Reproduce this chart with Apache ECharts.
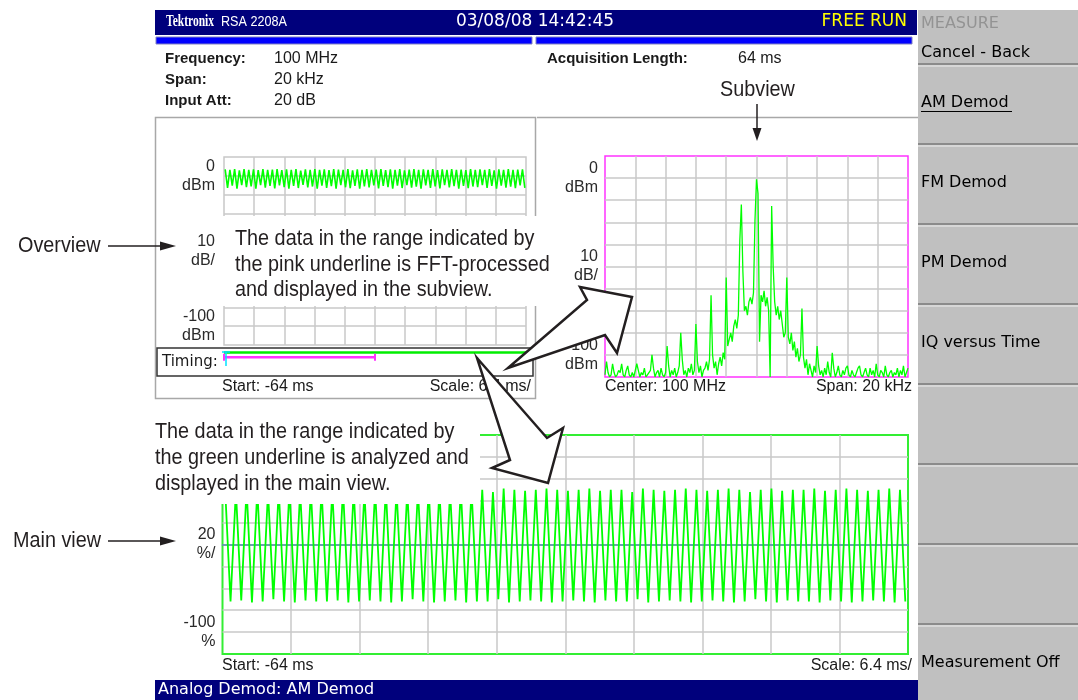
<!DOCTYPE html>
<html><head><meta charset="utf-8">
<script src="https://cdn.jsdelivr.net/npm/echarts@6/dist/echarts.min.js"></script>
<style>html,body{margin:0;padding:0;background:#fff}#c{width:1078px;height:700px}</style>
</head><body><div id="c"></div><script>
// ---------- data ----------
// Overview: 64 AM cycles, per-cycle peak / trough power (dBm)
const ovPeak = [-6.6,-6.9,-6.5,-7.1,-6.4,-6.8,-6.6,-7.0,-6.5,-6.9,
 -6.7,-6.4,-7.0,-6.6,-6.8,-6.5,-7.2,-6.6,-6.9,-6.4,
 -6.8,-6.6,-7.0,-6.5,-6.7,-6.9,-6.4,-7.1,-6.6,-6.8,
 -6.5,-6.9,-6.7,-6.4,-7.0,-6.6,-6.8,-6.5,-7.1,-6.7,
 -6.4,-6.9,-6.6,-6.8,-6.5,-7.0,-6.6,-6.9,-6.4,-6.8,
 -6.7,-7.0,-6.5,-6.8,-6.6,-6.9,-6.4,-7.1,-6.6,-6.8,
 -6.5,-6.9,-6.7,-6.6];
const ovTrough = [-16.4,-15.2,-16.8,-14.9,-16.1,-15.6,-16.9,-15.0,-16.3,-15.4,
 -16.7,-15.1,-16.0,-16.8,-15.3,-16.5,-14.8,-16.2,-15.7,-16.9,
 -15.2,-16.4,-15.5,-16.8,-15.0,-16.1,-16.6,-15.3,-16.9,-15.6,
 -16.2,-15.1,-16.7,-15.4,-16.0,-16.8,-15.2,-16.5,-14.9,-16.3,
 -15.8,-16.9,-15.1,-16.4,-15.6,-16.7,-15.0,-16.2,-15.5,-16.8,
 -15.3,-16.6,-15.7,-16.1,-14.9,-16.5,-15.4,-16.9,-15.2,-16.3,
 -15.8,-16.6,-15.1,-16.4];
// Subview spectrum: -10 kHz .. +10 kHz in 0.1 kHz steps (dBm)
const specDbm = [
 -99,-93,-98,-100,-99,-94,-98,-100,-99,-97,
 -98,-94,-99,-100,-97,-95,-99,-100,-98,-100,
 -100,-94,-97,-100,-98,-99,-96,-100,-99,-98,
 -97,-90,-96,-100,-98,-97,-100,-96,-99,-100,
 -98,-86,-95,-100,-97,-99,-96,-100,-98,-95,
 -80,-92,-99,-97,-100,-96,-98,-94,-99,-97,
 -76,-93,-98,-95,-100,-97,-96,-93,-97,-92,
 -63,-90,-96,-93,-99,-94,-91,-95,-89,-92,
 -55,-86,-83,-80,-84,-77,-74,-78,-72,-38,
 -22,-52,-70,-68,-72,-66,-64,-67,-62,-29,
 -10.5,-17,-84,-63,-66,-61,-68,-64,-70,-100,
 -22.6,-50,-66,-72,-68,-74,-70,-76,-82,-80,
 -55,-82,-85,-80,-88,-84,-91,-87,-93,-90,
 -69,-91,-96,-92,-99,-94,-97,-100,-95,-98,
 -86,-95,-99,-97,-100,-96,-99,-93,-98,-100,
 -89,-96,-100,-98,-95,-99,-100,-97,-99,-96,
 -95,-99,-100,-97,-99,-100,-98,-96,-95,-99,
 -100,-98,-96,-99,-100,-96,-99,-97,-100,-94,
 -99,-100,-97,-98,-100,-95,-99,-100,-98,-97,
 -100,-98,-99,-96,-100,-97,-99,-95,-100,-98,
 -96];
// Main view: 64 demodulated cycles, per-cycle peak / trough (%)
const mainPeak = [50,49,51,50,48,50,51,49,50,50,
 49,51,50,48,50,51,50,49,50,51,
 50,49,51,50,50,48,51,50,49,50,
 51,50,49,50,51,49,50,50,48,51,
 50,49,50,51,50,49,50,51,50,48,
 50,51,49,50,50,51,49,50,51,50,
 49,50,51,50];
const mainTrough = [-52,-51,-53,-52,-50,-52,-53,-51,-52,-52,
 -51,-53,-52,-51,-52,-53,-52,-50,-52,-53,
 -52,-51,-53,-52,-52,-50,-53,-52,-51,-52,
 -53,-52,-51,-52,-53,-51,-52,-52,-50,-53,
 -52,-51,-52,-53,-52,-51,-52,-53,-52,-50,
 -52,-53,-51,-52,-52,-53,-51,-52,-53,-52,
 -51,-52,-53,-52];
// Timing bar ranges (ms)
const timingMain = [-64, 0];
const timingSub = [-64, -32];
// Tick labels
const dbLabels = {'-10':'0\ndBm','-50':'10\ndB/','-90':'-100\ndBm'};
const pctLabels = {'0':'20\n%/','-80':'-100\n%'};
const menuItems = [['Cancel - Back',53],['AM Demod',103],['FM Demod',183],['PM Demod',263],['IQ versus Time',343],['Measurement Off',663]];
const menuSeps = [64,144,224,304,384,464,544,624];

// ---------- build ----------
function wave(p, t){ const d=[]; for(let i=0;i<p.length;i++){ d.push([-64+i+0.25,p[i]]); d.push([-64+i+0.75,t[i]]);} return d; }
const specData = specDbm.map((v,i)=>[(i-100)/10, v]);

const G = [];
const T = (x,y,text,o={}) => G.push({type:'text', x, y, z:o.z||10, scaleX:o.sx||1, scaleY:o.sy||1,
  style:{text, fill:o.fill||'#1a1a1a', fontSize:o.fs||16, fontFamily:o.ff||'DejaVu Sans', fontWeight:o.fw||'normal',
  textAlign:o.align||'left', align:o.align||'left', textVerticalAlign:'middle', verticalAlign:'middle'}});
const R = (x,y,w,h,o={}) => G.push({type:'rect', z:o.z||1, shape:{x,y,width:w,height:h}, style:{fill:o.fill||'none', stroke:o.stroke||null, lineWidth:o.lw||1}});
const L = (x1,y1,x2,y2,o={}) => G.push({type:'line', z:o.z||5, shape:{x1,y1,x2,y2}, style:{stroke:o.stroke||'#000', lineWidth:o.lw||1}});
const P = (pts,o={}) => G.push({type:'polygon', z:o.z||110, shape:{points:pts}, style:{fill:o.fill||'#fff', stroke:o.stroke===undefined?'#231f20':o.stroke, lineWidth:o.lw||2.5, lineJoin:'miter'}});
const ANN = {ff:'Liberation Sans', fs:22, sx:0.9, fill:'#231f20'};
const INS = {ff:'Liberation Sans', fs:16, fill:'#1a1a1a'};

// header
R(155,10,762,25,{fill:'#00007c',z:1});
T(166,22,'Tektronix',{fill:'#fff',ff:'Liberation Serif',fw:'bold',fs:16,sx:0.72});
T(221,22,'RSA 2208A',{fill:'#fff',ff:'Liberation Sans',fs:14,sx:0.9});
T(535,22,'03/08/08 14:42:45',{fill:'#fff',fs:17,align:'center'});
T(907,22,'FREE RUN',{fill:'#ffff00',fs:17,align:'right'});
R(156,37,376,7,{fill:'#0000ff',stroke:'#8080c0'});
R(536,37,376,7,{fill:'#0000ff',stroke:'#8080c0'});
// info
const LB = {ff:'Liberation Sans',fw:'bold',fs:15};
T(165,59,'Frequency:',LB); T(165,80,'Span:',LB); T(165,101,'Input Att:',LB); T(547,59,'Acquisition Length:',LB);
T(274,59,'100 MHz',INS); T(274,80,'20 kHz',INS); T(274,101,'20 dB',INS); T(738,59,'64 ms',INS);
// panels
R(155.5,117.5,380,281,{stroke:'#a8a8a8',lw:1.5});
L(537,117.5,918,117.5,{stroke:'#a8a8a8',lw:1.5});
R(157,348,376,28,{stroke:'#333',lw:1.5});
T(162,362,'Timing:',{fs:15});
L(222,352,230,352,{stroke:'#00e0ff',lw:1.5,z:20}); L(226,352,226,366,{stroke:'#00e0ff',lw:1.5,z:20});
T(222,387,'Start: -64 ms',INS); T(531,387,'Scale: 6.4 ms/',Object.assign({align:'right'},INS));
T(605,387,'Center: 100 MHz',INS); T(912,387,'Span: 20 kHz',Object.assign({align:'right'},INS));
T(222,666,'Start: -64 ms',INS); T(912,666,'Scale: 6.4 ms/',Object.assign({align:'right'},INS));
// side annotations
T(18,246,'Overview',ANN); L(108,246,166,246,{stroke:'#231f20',lw:1.5}); P([[160,241.5],[176,246],[160,250.5]],{fill:'#231f20',stroke:'none',z:20});
T(13,541,'Main view',ANN); L(108,541,166,541,{stroke:'#231f20',lw:1.5}); P([[160,536.5],[176,541],[160,545.5]],{fill:'#231f20',stroke:'none',z:20});
T(720,90,'Subview',ANN); L(757,104,757,132,{stroke:'#231f20',lw:1.5}); P([[752.5,128],[757,141],[761.5,128]],{fill:'#231f20',stroke:'none',z:20});
// callouts
R(223,216,332,90,{fill:'#fff',z:100});
T(235,239,'The data in the range indicated by',Object.assign({z:101},ANN));
T(235,264.5,'the pink underline is FFT-processed',Object.assign({z:101},ANN));
T(235,290,'and displayed in the subview.',Object.assign({z:101},ANN));
R(148,415,332,89,{fill:'#fff',z:100});
T(155,432,'The data in the range indicated by',Object.assign({z:101},ANN));
T(155,458,'the green underline is analyzed and',Object.assign({z:101},ANN));
T(155,484,'displayed in the main view.',Object.assign({z:101},ANN));
// big hollow arrows
P([[508,368],[587,300],[580,287],[632,297],[617,353],[605,335]]);
P([[477,358],[547,438],[563,428],[548,483],[492,468],[510,460]]);
// menu
R(918,10,160,690,{fill:'#c0c0c0',z:1});
T(921,24,'MEASURE',{fill:'#939393',fs:16});
menuSeps.forEach(y=>{ L(918,y,1078,y,{stroke:'#7a7a7a',lw:1.5}); L(918,y+2,1078,y+2,{stroke:'#eeeeee',lw:1}); });
menuItems.forEach(([t,y])=>T(921,y,t,{fs:16,fill:'#000'}));
L(921,111.5,1012,111.5,{stroke:'#000',lw:1.2});
// footer
R(155,680,763,20,{fill:'#00007c',z:1});
T(158,690,'Analog Demod: AM Demod',{fill:'#fff',fs:16});

const GL = {show:true, lineStyle:{color:'#c8c8c8', width:1.5}, showMinLine:false, showMaxLine:false};
const LBL = (map, m) => ({show:true, margin:m, color:'#2a2a2a', fontFamily:'Liberation Sans', fontSize:16, lineHeight:19,
  formatter: v => map[String(Math.round(v))] || ''});
const hid = {axisLine:{show:false}, axisTick:{show:false}, axisLabel:{show:false}};

const option = {
  animation:false,
  backgroundColor:'#fff',
  grid:[
    {left:224, top:157, width:302, height:188, show:true, borderColor:'#c8c8c8', borderWidth:1.5},
    {left:605, top:156, width:303, height:221, show:true, borderColor:'#ff33ff', borderWidth:1.5},
    {left:222.5, top:435, width:685.5, height:219, show:true, borderColor:'#33ee33', borderWidth:2},
    {left:224, top:349, width:302, height:26}
  ],
  xAxis:[
    Object.assign({type:'value', gridIndex:0, min:-64, max:0, interval:6.4, splitLine:GL}, hid),
    Object.assign({type:'value', gridIndex:1, min:-10, max:10, interval:2, splitLine:GL}, hid),
    {type:'value', gridIndex:2, min:-64, max:0, interval:6.4, splitLine:GL, axisTick:{show:false}, axisLabel:{show:false},
      axisLine:{show:true, onZero:true, lineStyle:{color:'#4d8ca5', width:1.5}}},
    Object.assign({type:'value', gridIndex:3, min:-64, max:0, splitLine:{show:false}}, hid)
  ],
  yAxis:[
    {type:'value', gridIndex:0, min:-100, max:0, interval:10, splitLine:GL, axisLine:{show:false}, axisTick:{show:false}, axisLabel:LBL(dbLabels,9)},
    {type:'value', gridIndex:1, min:-100, max:0, interval:10, splitLine:GL, axisLine:{show:false}, axisTick:{show:false}, axisLabel:LBL(dbLabels,7)},
    {type:'value', gridIndex:2, min:-100, max:100, interval:20, splitLine:GL, axisLine:{show:false}, axisTick:{show:false}, axisLabel:LBL(pctLabels,7)},
    Object.assign({type:'value', gridIndex:3, min:0, max:1, splitLine:{show:false}}, hid)
  ],
  series:[
    {type:'line', xAxisIndex:0, yAxisIndex:0, data:wave(ovPeak,ovTrough), showSymbol:false, lineStyle:{color:'#00ff00', width:1.6}},
    {type:'line', xAxisIndex:1, yAxisIndex:1, data:specData, showSymbol:false, lineStyle:{color:'#00ff00', width:1.3}},
    {type:'line', xAxisIndex:2, yAxisIndex:2, data:wave(mainPeak,mainTrough), showSymbol:false, lineStyle:{color:'#00ff00', width:1.8}},
    {type:'line', xAxisIndex:3, yAxisIndex:3, data:timingMain.map(x=>[x,0.87]), showSymbol:false, lineStyle:{color:'#00ee00', width:2.5}},
    {type:'line', xAxisIndex:3, yAxisIndex:3, data:timingSub.map(x=>[x,0.68]), symbol:'rect', symbolSize:[2,7], showSymbol:true,
      itemStyle:{color:'#ff33ff'}, lineStyle:{color:'#ff33ff', width:2.5}}
  ],
  graphic:{elements:G}
};
const chart = echarts.init(document.getElementById('c'), null, {renderer:'canvas'});
chart.setOption(option);
</script></body></html>
